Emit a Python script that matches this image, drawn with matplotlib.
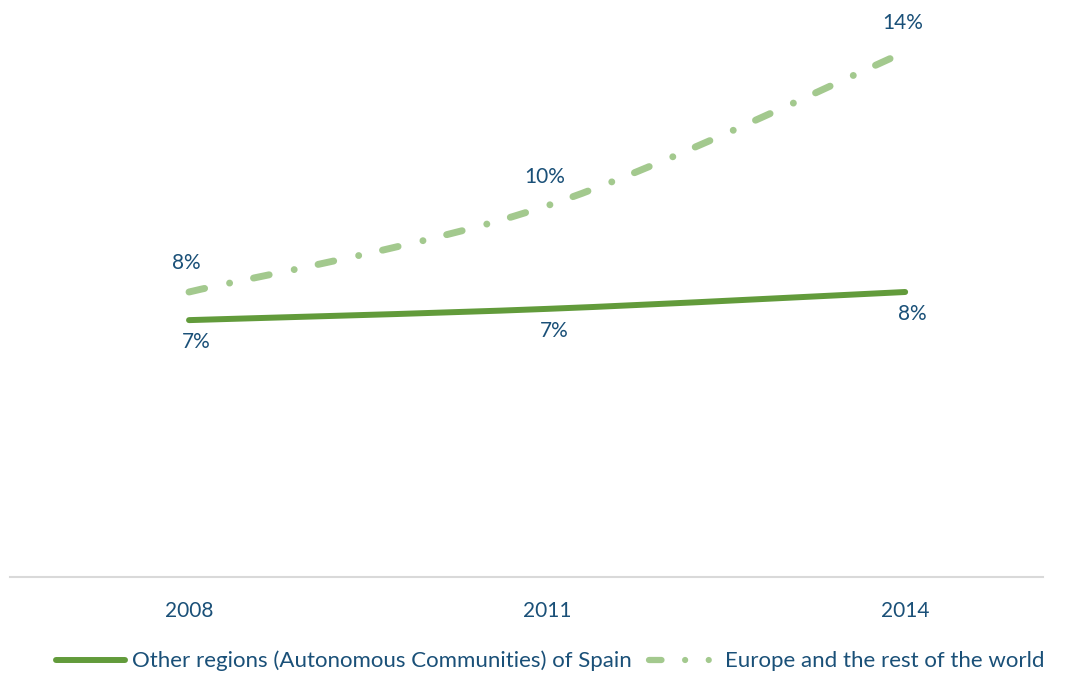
import matplotlib.pyplot as plt
from matplotlib.path import Path
from matplotlib.patches import PathPatch
from matplotlib.lines import Line2D

plt.rcParams['font.family'] = ['Lato', 'DejaVu Sans']
plt.rcParams['lines.scale_dashes'] = False

years = ["2008", "2011", "2014"]
spain = [6.85, 7.15, 7.6]
world = [7.6, 9.9, 14.0]
spain_name = "Other regions (Autonomous Communities) of Spain"
world_name = "Europe and the rest of the world"

dark_green = "#629b3b"
light_green = "#a3c98e"
text_blue = "#1a5078"


def smooth_path(xs, ys):
    # Catmull-Rom style bezier segments, like spreadsheet "smoothed line"
    pts = list(zip(xs, ys))
    n = len(pts)
    verts = [pts[0]]
    codes = [Path.MOVETO]
    for i in range(n - 1):
        p0 = pts[max(i - 1, 0)]
        p1 = pts[i]
        p2 = pts[i + 1]
        p3 = pts[min(i + 2, n - 1)]
        c1 = (p1[0] + (p2[0] - p0[0]) / 6, p1[1] + (p2[1] - p0[1]) / 6)
        c2 = (p2[0] - (p3[0] - p1[0]) / 6, p2[1] - (p3[1] - p1[1]) / 6)
        verts += [c1, c2, p2]
        codes += [Path.CURVE4] * 3
    return Path(verts, codes)


fig = plt.figure(figsize=(10.73, 6.75), dpi=100)
ax = fig.add_axes([10 / 1073, 1 - 577 / 675, 1033 / 1073, 567 / 675])

x = list(range(len(years)))
dash_pattern = (0, (11.5, 18.4, 0.01, 17.6))

ax.add_patch(PathPatch(smooth_path(x, world), fill=False, edgecolor=light_green,
                       lw=5, linestyle=dash_pattern, capstyle='round'))
ax.add_patch(PathPatch(smooth_path(x, spain), fill=False, edgecolor=dark_green,
                       lw=4.3, capstyle='round'))

for xi, v in zip(x, world):
    ax.annotate(f"{v:.0f}%", (xi, v), xytext=(-2, 13.5), textcoords='offset points',
                ha='center', va='bottom', fontsize=15, color=text_blue)
for xi, v in zip(x, spain):
    ax.annotate(f"{v:.0f}%", (xi, v), xytext=(5, -8.5), textcoords='offset points',
                ha='center', va='top', fontsize=15, color=text_blue)

ax.set_xlim(-0.5, 2.385)
ax.set_ylim(0, 15.12)
ax.set_xticks(x)
ax.set_xticklabels(years, fontsize=15, color=text_blue)
ax.set_yticks([])
ax.tick_params(axis='x', length=0, pad=17)
for side in ['left', 'right', 'top']:
    ax.spines[side].set_visible(False)
ax.spines['bottom'].set_color('#d9d9d9')
ax.spines['bottom'].set_linewidth(1.5)

handles = [
    Line2D([], [], color=dark_green, lw=4.3, solid_capstyle='round'),
    Line2D([], [], color=light_green, lw=4.5,
           linestyle=(0, (9, 17, 0.01, 17, 0.01, 40)), dash_capstyle='round'),
]
leg = fig.legend(handles, [spain_name, world_name], loc='center',
                 bbox_to_anchor=(0.513, 1 - 661 / 675), ncol=2, frameon=False,
                 fontsize=16, handlelength=3.1, handletextpad=0.3,
                 columnspacing=0.8)
for t in leg.get_texts():
    t.set_color(text_blue)

fig.savefig("out.png", dpi=100)
